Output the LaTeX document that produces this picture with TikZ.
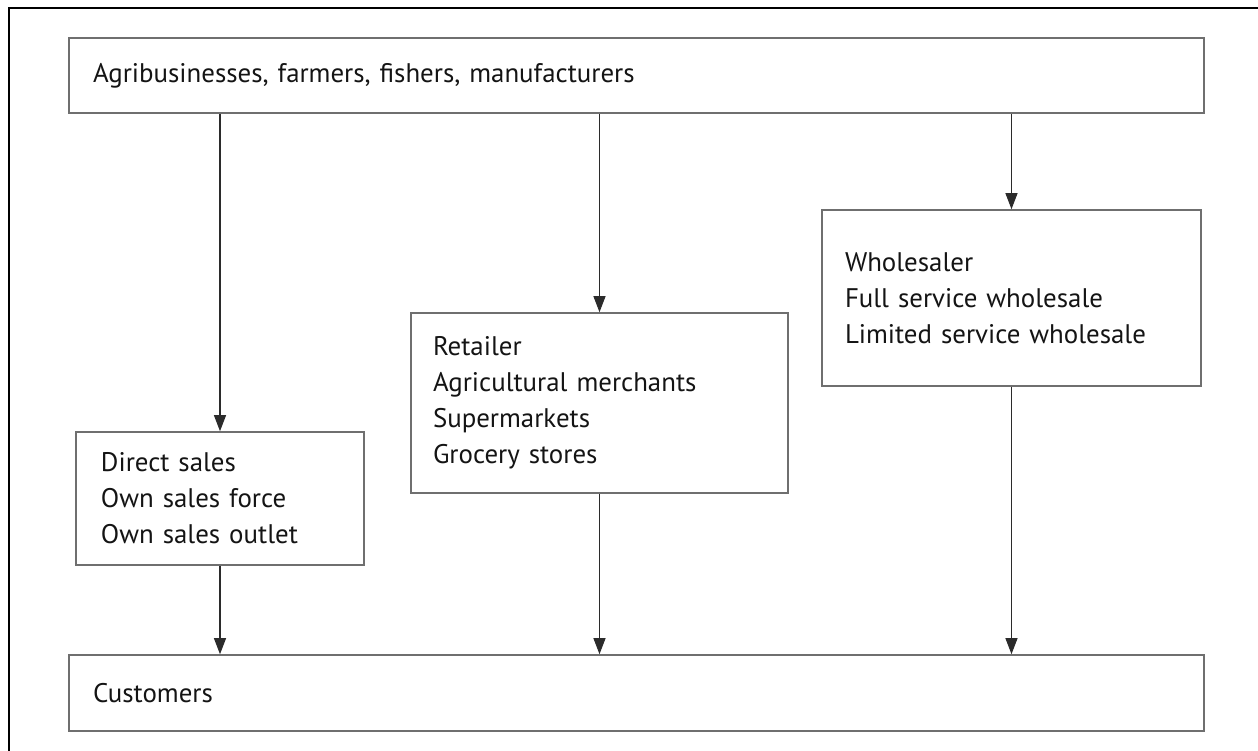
\documentclass[tikz,border=0pt]{standalone}
\usepackage{fontspec}
\setmainfont{PT Sans}
\usetikzlibrary{positioning,arrows.meta,calc}
\definecolor{framegrey}{HTML}{6F6F6F}
\definecolor{inkc}{HTML}{141414}
\definecolor{arrowink}{HTML}{2B2B2B}

\begin{document}
\begin{tikzpicture}[
        chanbox/.style={draw=framegrey, line width=0.9pt, align=left, inner xsep=0pt, inner ysep=0pt, text=inkc, font=\fontsize{15.3}{20.5}\selectfont},
        flow/.style={-{Triangle[length=3.2mm, width=2.4mm]}, line width=0.6pt, draw=arrowink}]
      \useasboundingbox (0,0) rectangle (25.16,-15.02);
      \draw[black, line width=0.6pt] (0.18,-15.02) -- (0.18,-0.16) -- (25.16,-0.16);
      \node[chanbox, minimum width=22.7cm, minimum height=1.5cm, text width=21.74cm] (src) at (12.73,-1.51) {Agribusinesses, farmers, fishers, manufacturers};
      \node[chanbox, minimum width=5.76cm, minimum height=2.66cm, text width=4.76cm] (direct) at (4.40,-9.97) {Direct sales\\Own sales force\\Own sales outlet};
      \node[chanbox, minimum width=7.54cm, minimum height=3.6cm, text width=6.66cm] (retail) at (11.99,-8.06) {Retailer\\Agricultural merchants\\Supermarkets\\Grocery stores};
      \node[chanbox, minimum width=7.58cm, minimum height=3.52cm, text width=6.66cm] (whole) at (20.23,-5.96) {Wholesaler\\Full service wholesale\\Limited service wholesale};
      \node[chanbox, minimum width=22.7cm, minimum height=1.52cm, text width=21.74cm] (cust) at (12.73,-13.86) {Customers};
      \foreach \chan in {direct, retail, whole}{
        \draw[flow] (src.south -| \chan.north) -- (\chan.north);
        \draw[flow] (\chan.south) -- (cust.north -| \chan.south);
      }
    \end{tikzpicture}
\end{document}
